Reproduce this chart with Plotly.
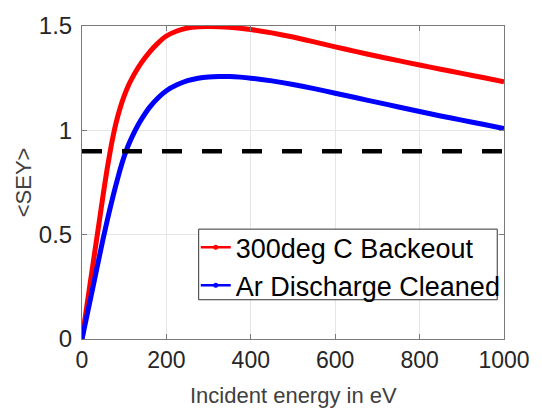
import plotly.graph_objects as go

# ---- data ----
energy = [0, 10, 20, 30, 40, 50, 60, 70, 80, 90, 100, 110, 120, 130, 140, 160, 180,
          200, 225, 250, 275, 300, 325, 350, 375, 400, 450, 500, 550, 600, 650,
          700, 750, 800, 850, 900, 950, 1000]
sey_bakeout = [0, 0.138, 0.276, 0.414, 0.55, 0.69, 0.82, 0.935, 1.03, 1.105, 1.165,
               1.215, 1.255, 1.29, 1.322, 1.375, 1.418, 1.452, 1.476, 1.49, 1.496,
               1.498, 1.497, 1.494, 1.489, 1.483, 1.467, 1.447, 1.424, 1.400, 1.377,
               1.355, 1.334, 1.313, 1.293, 1.273, 1.253, 1.233]
sey_ar_clean = [0, 0.096, 0.192, 0.288, 0.385, 0.48, 0.57, 0.655, 0.735, 0.81, 0.875,
                0.93, 0.975, 1.015, 1.05, 1.11, 1.155, 1.19, 1.218, 1.238, 1.25,
                1.256, 1.258, 1.258, 1.255, 1.25, 1.237, 1.22, 1.2, 1.178, 1.156,
                1.134, 1.112, 1.09, 1.069, 1.049, 1.029, 1.009]
threshold_x = [0, 1000]
threshold_y = [0.9, 0.9]
names = ["300deg C Backeout", "Ar Discharge Cleaned"]
colors = ["#ff0000", "#0000ff"]
x_ticks = [0, 200, 400, 600, 800, 1000]
y_ticks = [0, 0.5, 1, 1.5]
y_ticktext = ["0", "0.5", "1", "1.5"]

FONT = "Liberation Sans, Arial, sans-serif"
fig = go.Figure()

for ys, col in zip([sey_bakeout, sey_ar_clean], colors):
    fig.add_trace(go.Scatter(x=energy, y=ys, mode="lines", showlegend=False,
                             line=dict(color=col, width=5, shape="spline", smoothing=0.4)))
fig.add_trace(go.Scatter(x=threshold_x, y=threshold_y, mode="lines", showlegend=False,
                         line=dict(color="black", width=4.5, dash="20px,20px")))

# legend entries (thin line with dot marker, as in the reference)
for nm, col in zip(names, colors):
    fig.add_trace(go.Scatter(x=[None], y=[None], mode="lines+markers", name=nm,
                             line=dict(color=col, width=2.5),
                             marker=dict(color=col, size=5)))

axis_common = dict(showline=True, linecolor="#7a7a7a", linewidth=1, mirror="ticks",
                   ticks="inside", ticklen=5, tickcolor="#7a7a7a", showgrid=True,
                   gridcolor="#e6e6e6", gridwidth=1, zeroline=False)

fig.update_layout(
    width=542, height=411,
    margin=dict(l=82, r=26, t=20, b=72),
    paper_bgcolor="white", plot_bgcolor="white",
    xaxis=dict(range=[0, 1000], tickvals=x_ticks,
               tickfont=dict(family=FONT, size=23, color="#262626"), **axis_common),
    yaxis=dict(range=[0, 1.5], tickvals=y_ticks, ticktext=y_ticktext,
               ticklabelstandoff=4,
               tickfont=dict(family=FONT, size=24, color="#262626"), **axis_common),
    legend=dict(x=0.2696, xanchor="left", y=0.37, yanchor="top",
                bgcolor="rgba(0,0,0,0)", borderwidth=0,
                font=dict(family=FONT, size=27, color="black"),
                tracegroupgap=0, itemwidth=30),
    shapes=[dict(type="rect", xref="paper", yref="paper", x0=0.2765, x1=0.984,
                 y0=0.1254, y1=0.351, fillcolor="white",
                 line=dict(color="#333333", width=1), layer="above")],
    annotations=[
        dict(text="Incident energy in eV", xref="paper", yref="paper", x=0.5, y=-0.182,
             xanchor="center", yanchor="middle", showarrow=False,
             font=dict(family=FONT, size=22, color="#404040")),
        dict(text="&lt;SEY&gt;", xref="paper", yref="paper", x=-0.138, y=0.5,
             xanchor="center", yanchor="middle", showarrow=False, textangle=-90,
             font=dict(family=FONT, size=22, color="#404040")),
    ],
)

fig.write_html("out.html")
